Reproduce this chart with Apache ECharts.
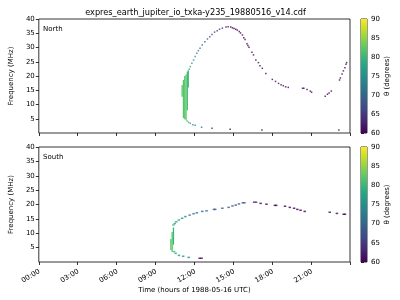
<!DOCTYPE html>
<html><head><meta charset="utf-8">
<script src="https://cdn.jsdelivr.net/npm/echarts@6/dist/echarts.min.js"></script>
<style>html,body{margin:0;padding:0;background:#fff}#c{width:400px;height:300px}</style>
</head><body><div id="c"></div>
<script>
// ---- data ----
const chartTitle = 'expres_earth_jupiter_io_txka-y235_19880516_v14.cdf';
const panelNames = ['North', 'South'];
const xTickHours = [0, 3, 6, 9, 12, 15, 18, 21];
const xTickLabels = ['00:00','03:00','06:00','09:00','12:00','15:00','18:00','21:00'];
const thetaTicks = [60, 65, 70, 75, 80, 85, 90];
const thetaRange = [60, 90];
// [hour, freq MHz, theta deg]
const northPoints = [
  [11.43,4.2,80],[11.55,3.7,78],[11.68,3.4,77],[11.88,2.9,75],[12.05,2.7,74],[12.55,2.0,69],[13.35,1.65,62],[14.75,1.3,60],[17.2,1.05,60],[23.13,1.05,60],
  [11.6,22.4,78],[11.68,23.3,77],[11.8,24.5,76],[11.93,25.6,75],[12.05,26.8,74],[12.18,28.0,73],[12.3,28.9,72],[12.43,29.7,71],[12.6,30.9,70],
  [12.8,32.0,69],[13.0,33.0,68],[13.18,33.8,67],[13.35,34.6,66],[13.55,35.4,65],[13.75,35.9,64],[13.93,36.4,63],[14.15,36.8,62],[14.43,37.2,61],
  [14.6,37.3,60.5],[14.8,37.2,60],[14.93,36.9,60],[15.05,36.7,60],[15.18,36.4,60],[15.3,36.1,60],[15.45,35.6,60],[15.55,35.1,60],[15.7,34.4,60],
  [15.8,33.4,60],[15.9,32.8,60],[16.05,31.3,60],[16.12,30.7,60],[16.2,30.1,60],[16.43,28.3,60],[16.55,27.4,60],[16.73,25.6,60],[16.93,24.7,60],
  [17.05,23.6,60],[17.23,22.7,60],[17.5,20.9,60],[18.0,18.8,60],[18.25,18.1,60],[18.48,17.4,60],[18.68,16.9,60],[18.85,16.6,60],[19.03,16.2,60],
  [19.23,16.0,60],[20.33,15.7,60],[20.43,15.7,60],[20.68,15.3,60],[20.93,14.7,60],[21.03,14.3,60],[22.08,12.9,60],[22.25,13.6,60],[22.38,14.0,60],
  [22.55,14.7,60],[23.18,18.6,60],[23.25,19.3,60],[23.38,20.7,60],[23.48,21.8,60],[23.6,22.9,60],[23.68,24.1,60],[23.73,24.7,60]
];
const southPoints = [
  [10.43,3.6,80],[10.55,3.0,78],[10.8,2.3,76],[11.13,2.0,75],[11.55,1.6,73],[12.4,1.3,60],[12.55,1.3,60],
  [10.38,12.9,79],[10.48,13.4,78],[10.6,14.0,77],[10.8,14.6,76],[11.05,15.2,75],[11.3,15.8,74],[11.63,16.3,72],[11.93,16.8,71],[12.18,17.1,70],
  [12.6,17.6,69],[12.93,17.8,69],[13.5,18.3,68],[13.6,18.3,68],[14.15,18.7,68],[14.63,19.0,68],[14.93,19.5,68],[15.18,19.8,68],[15.43,20.2,68],
  [15.73,20.6,68],[15.85,20.6,68],[16.6,20.8,63],[16.75,20.8,63],[17.1,20.4,60],[17.55,20.1,60],[18.2,19.7,60],[18.3,19.7,60],[18.98,19.4,60],
  [19.35,19.0,60],[19.68,18.7,60],[19.93,18.3,60],[20.18,18.0,60],[20.5,17.6,60],[22.43,17.3,60],[22.98,16.9,60],[23.5,16.6,60],[23.6,16.6,60]
];
// dense emission columns: [hour, freq low, freq high, theta]
const northBand = [
  [11.0,12.7,16.8,82],[11.1,5.2,18.6,82],[11.2,4.8,20.0,82],[11.3,4.5,20.5,82],[11.4,8.0,21.5,81],[11.47,16.0,22.0,80]
];
const southBand = [
  [10.13,4.2,8.0,82],[10.23,3.5,10.4,82],[10.33,6.0,12.0,80]
];
const colWidth = 0.1; // hours per time bin

// ---- chart ----
const viridis = ['#440154','#482475','#414487','#355f8d','#2a788e','#21918c','#22a884','#44bf70','#7ad151','#bddf26','#fde725'];
const chart = echarts.init(document.getElementById('c'), null, {renderer: 'canvas'});
const FONT = 'DejaVu Sans';
const lbl = {fontFamily: FONT, fontSize: 7, color: '#000'};
const PL = 31, PW = 319, CBL = 361, CBW = 6;
const grids = [
  {left: PL, top: 19, width: PW, height: 114},
  {left: PL, top: 147, width: PW, height: 115},
  {left: CBL, top: 19, width: CBW, height: 114},
  {left: CBL, top: 147, width: CBW, height: 115}
].map(g => Object.assign({show: true, borderColor: '#000', borderWidth: 0.8, backgroundColor: 'transparent'}, g));

function mainX(i, withName) {
  return {
    type: 'value', gridIndex: i, min: 0, max: 23.99, interval: 3,
    axisLine: {show: false}, splitLine: {show: false},
    axisTick: {show: true, length: 3, lineStyle: {color: '#000', width: 0.8}},
    axisLabel: {show: false},
    name: withName ? 'Time (hours of 1988-05-16 UTC)' : '',
    nameLocation: 'middle', nameGap: 25, nameTextStyle: lbl
  };
}
function mainY(i) {
  return {
    type: 'value', gridIndex: i, min: 0, max: 40, interval: 5,
    axisLine: {show: false}, splitLine: {show: false},
    axisTick: {show: true, length: 3, lineStyle: {color: '#000', width: 0.8}},
    axisLabel: Object.assign({showMinLabel: false, margin: 4}, lbl),
    name: 'Frequency (MHz)', nameLocation: 'middle', nameGap: 18, nameRotate: 90, nameTextStyle: lbl
  };
}
function cbX(i) { return {type: 'value', gridIndex: i, min: 0, max: 1, show: false}; }
function cbY(i) {
  return {
    type: 'value', gridIndex: i, min: thetaRange[0], max: thetaRange[1], interval: 5, position: 'right',
    axisLine: {show: false}, splitLine: {show: false},
    axisTick: {show: true, length: 3, lineStyle: {color: '#000', width: 0.8}},
    axisLabel: Object.assign({margin: 4}, lbl),
    name: 'θ (degrees)', nameLocation: 'middle', nameGap: 17, nameRotate: 90, nameTextStyle: lbl
  };
}
function bandRender(params, api) {
  const h = api.value(0);
  const a = api.coord([h, api.value(2)]);
  const b = api.coord([h + colWidth, api.value(1)]);
  return {type: 'rect', shape: {x: a[0], y: a[1], width: Math.max(1, b[0] - a[0]), height: Math.max(1.5, b[1] - a[1])},
    style: {fill: api.visual('color')}};
}
function cbRender(params, api) {
  const a = api.coord([0, api.value(1)]);
  const b = api.coord([1, api.value(0)]);
  const stops = viridis.map((c, k) => ({offset: k / (viridis.length - 1), color: c}));
  return {type: 'rect', shape: {x: a[0], y: a[1], width: b[0] - a[0], height: b[1] - a[1]},
    style: {fill: new echarts.graphic.LinearGradient(0, 1, 0, 0, stops)}};
}
// rotated time tick labels, anchored at each tick via the bottom axis scale
function tickLabelRender(params, api) {
  const p = api.coord([api.value(0), 0]);
  return {type: 'text', x: p[0] - 1, y: p[1] + 6, rotation: Math.PI / 6,
    style: {text: xTickLabels[params.dataIndex], font: '7px "DejaVu Sans"', fill: '#000', align: 'right', verticalAlign: 'top'}};
}
const option = {
  backgroundColor: '#fff',
  animation: false,
  title: {text: chartTitle, left: 190.5, top: 4, textAlign: 'center',
    textStyle: {fontFamily: FONT, fontSize: 8.2, fontWeight: 'normal', color: '#000'}},
  grid: grids,
  xAxis: [mainX(0, false), mainX(1, true), cbX(2), cbX(3)],
  yAxis: [mainY(0), mainY(1), cbY(2), cbY(3)],
  visualMap: [
    {type: 'continuous', show: false, min: thetaRange[0], max: thetaRange[1], dimension: 2, seriesIndex: [0, 1], inRange: {color: viridis}},
    {type: 'continuous', show: false, min: thetaRange[0], max: thetaRange[1], dimension: 3, seriesIndex: [2, 3], inRange: {color: viridis}}
  ],
  graphic: [
    {type: 'text', left: 43, top: 26, style: {text: panelNames[0], font: '7px "DejaVu Sans"', fill: '#000'}},
    {type: 'text', left: 43, top: 154, style: {text: panelNames[1], font: '7px "DejaVu Sans"', fill: '#000'}}
  ],
  series: [
    {type: 'scatter', xAxisIndex: 0, yAxisIndex: 0, data: northPoints, symbol: 'rect', symbolSize: [1.5, 1.5], encode: {x: 0, y: 1}},
    {type: 'scatter', xAxisIndex: 1, yAxisIndex: 1, data: southPoints, symbol: 'rect', symbolSize: [2.5, 1.5], encode: {x: 0, y: 1}},
    {type: 'custom', xAxisIndex: 0, yAxisIndex: 0, data: northBand, renderItem: bandRender, encode: {x: 0, y: [1, 2]}},
    {type: 'custom', xAxisIndex: 1, yAxisIndex: 1, data: southBand, renderItem: bandRender, encode: {x: 0, y: [1, 2]}},
    {type: 'custom', xAxisIndex: 2, yAxisIndex: 2, data: [thetaRange], renderItem: cbRender, encode: {y: [0, 1]}, silent: true},
    {type: 'custom', xAxisIndex: 3, yAxisIndex: 3, data: [thetaRange], renderItem: cbRender, encode: {y: [0, 1]}, silent: true},
    {type: 'custom', xAxisIndex: 1, yAxisIndex: 1, data: xTickHours.map(h => [h]), renderItem: tickLabelRender, encode: {x: 0}, clip: false, silent: true}
  ]
};
chart.setOption(option);
</script>
</body></html>
